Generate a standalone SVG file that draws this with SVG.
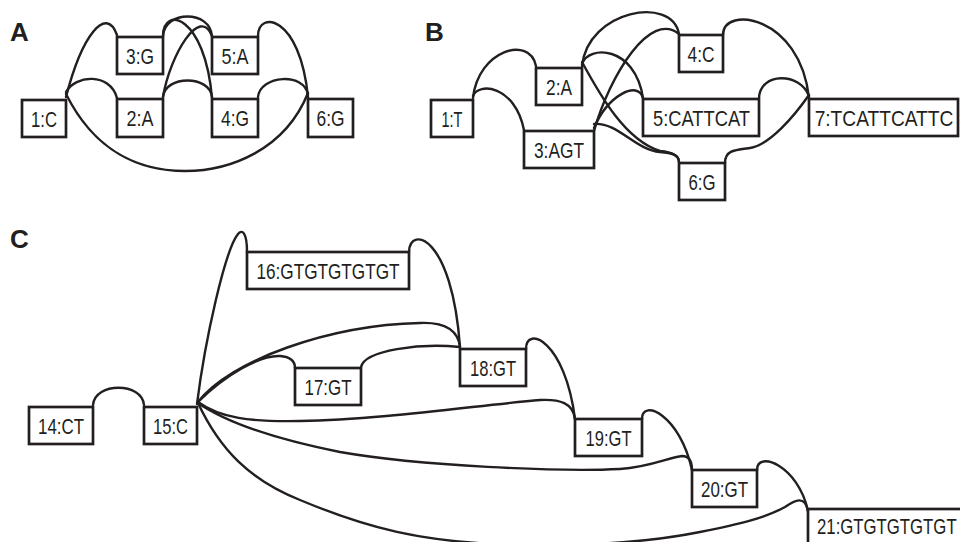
<svg xmlns="http://www.w3.org/2000/svg" width="960" height="542" viewBox="0 0 960 542">
<style>
.bg{fill:#ffffff}
.box{fill:#ffffff;stroke:#231f20;stroke-width:2.7}
.lbl{font-family:"Liberation Sans",Arial,sans-serif;font-size:22.5px;fill:#231f20;text-anchor:middle}
.pn{font-family:"Liberation Sans",Arial,sans-serif;font-size:26px;font-weight:bold;fill:#231f20}
.e{fill:none;stroke:#231f20;stroke-width:2.4;stroke-linecap:round}
</style>
<rect class="bg" x="0" y="0" width="960" height="542"/>
<text class="pn" x="10" y="41">A</text>
<text class="pn" x="425" y="41">B</text>
<text class="pn" x="10" y="248">C</text>
<g id="connectors">
<!-- Panel A -->
<path class="e" d="M66,97 C82,35 106,5 117,35"/>
<path class="e" d="M66,92 C75,75 110,72 117,98"/>
<path class="e" d="M66,94 C95,152 140,171 185,171 C230,171 285,150 308,93"/>
<path class="e" d="M163,36 C163,5 205,15 212,98"/>
<path class="e" d="M163,36 C165,10 210,10 212,36"/>
<path class="e" d="M163,97 C170,55 200,5 212,36"/>
<path class="e" d="M163,97 C165,75 210,75 212,97"/>
<path class="e" d="M258,36 C258,10 300,15 308,97"/>
<path class="e" d="M258,97 C260,75 305,72 308,95"/>
<!-- Panel B -->
<path class="e" d="M473,98 C478,50 530,35 536,66"/>
<path class="e" d="M473,96 C478,82 515,85 524,130"/>
<path class="e" d="M582,66 C588,10 672,-5 679,34"/>
<path class="e" d="M582,64 C588,45 635,45 643,98"/>
<path class="e" d="M582,62 C600,95 625,140 660,151 C672,152 679,155 679,162"/>
<path class="e" d="M594,131 C610,75 650,10 679,34"/>
<path class="e" d="M594,128 C608,95 638,80 643,98"/>
<path class="e" d="M594,124 C618,122 635,150 660,152 C672,153 679,155 679,162"/>
<path class="e" d="M723,35 C723,5 800,15 809,98"/>
<path class="e" d="M759,98 C760,72 800,72 809,96"/>
<path class="e" d="M725,163 C725,150 735,150 750,148 C770,145 795,115 809,95"/>
<!-- Panel C -->
<path class="e" d="M93,405 C95,382 142,382 144,405"/>
<path class="e" d="M197,404 C205,340 225,250 238,234 C242,229 247,232 247,252"/>
<path class="e" d="M409,252 C410,225 452,235 460,347"/>
<path class="e" d="M198,402 C230,360 330,325 420,323 C445,322 458,330 460,347"/>
<path class="e" d="M198,402 C225,375 260,355 280,356 C292,357 295,362 295,368"/>
<path class="e" d="M361,367 C365,350 420,343 460,347"/>
<path class="e" d="M526,349 C526,325 565,340 575,419"/>
<path class="e" d="M198,402 C220,418 250,422 300,421 C380,420 480,405 540,400 C560,399 573,403 575,419"/>
<path class="e" d="M642,419 C642,398 680,415 692,470"/>
<path class="e" d="M198,403 C230,425 280,440 340,452 C420,466 560,472 620,469 C650,467 670,457 682,456 C688,456 692,460 692,470"/>
<path class="e" d="M757,470 C757,450 798,465 808,511"/>
<path class="e" d="M198,403 C220,450 250,480 300,500 C360,525 420,545 535,545 C600,545 650,542 700,532 C740,524 765,518 785,507 C795,500 805,495 808,511"/>
</g>
<!-- Panel A nodes -->
<g id="a1"><rect class="box" x="22" y="100" width="44" height="37"/><text class="lbl" x="44" y="126.5" textLength="26" lengthAdjust="spacingAndGlyphs">1:C</text></g>
<g id="a3"><rect class="box" x="117" y="37" width="46" height="37"/><text class="lbl" x="140" y="63.5" textLength="28" lengthAdjust="spacingAndGlyphs">3:G</text></g>
<g id="a5"><rect class="box" x="212" y="37" width="46" height="37"/><text class="lbl" x="235" y="63.5" textLength="27" lengthAdjust="spacingAndGlyphs">5:A</text></g>
<g id="a2"><rect class="box" x="117" y="99" width="46" height="38"/><text class="lbl" x="140" y="126" textLength="27" lengthAdjust="spacingAndGlyphs">2:A</text></g>
<g id="a4"><rect class="box" x="212" y="99" width="46" height="38"/><text class="lbl" x="235" y="126" textLength="28" lengthAdjust="spacingAndGlyphs">4:G</text></g>
<g id="a6"><rect class="box" x="308" y="99" width="45" height="38"/><text class="lbl" x="330.5" y="126" textLength="28" lengthAdjust="spacingAndGlyphs">6:G</text></g>
<!-- Panel B nodes -->
<g id="b1"><rect class="box" x="431" y="100" width="42" height="37"/><text class="lbl" x="452" y="126.5" textLength="21" lengthAdjust="spacingAndGlyphs">1:T</text></g>
<g id="b2"><rect class="box" x="536" y="68" width="46" height="37"/><text class="lbl" x="559" y="94.5" textLength="26" lengthAdjust="spacingAndGlyphs">2:A</text></g>
<g id="b3"><rect class="box" x="524" y="131" width="70" height="37"/><text class="lbl" x="559" y="157.5" textLength="50" lengthAdjust="spacingAndGlyphs">3:AGT</text></g>
<g id="b4"><rect class="box" x="679" y="35" width="44" height="37"/><text class="lbl" x="701" y="61.5" textLength="27" lengthAdjust="spacingAndGlyphs">4:C</text></g>
<g id="b5"><rect class="box" x="643" y="99" width="116" height="37"/><text class="lbl" x="701.5" y="125.5" textLength="97" lengthAdjust="spacingAndGlyphs">5:CATTCAT</text></g>
<g id="b6"><rect class="box" x="679" y="163" width="46" height="37"/><text class="lbl" x="702" y="189.5" textLength="27" lengthAdjust="spacingAndGlyphs">6:G</text></g>
<g id="b7"><rect class="box" x="809" y="99" width="149" height="37"/><text class="lbl" transform="translate(884,125.5) scale(0.852,1)" x="0" y="0">7:TCATTCATTC</text></g>
<!-- Panel C nodes -->
<g id="c14"><rect class="box" x="29" y="407" width="64" height="37"/><text class="lbl" x="61" y="433.5" textLength="46" lengthAdjust="spacingAndGlyphs">14:CT</text></g>
<g id="c15"><rect class="box" x="144" y="407" width="53" height="37"/><text class="lbl" x="170.5" y="433.5" textLength="35" lengthAdjust="spacingAndGlyphs">15:C</text></g>
<g id="c16"><rect class="box" x="247" y="252" width="162" height="37"/><text class="lbl" x="328" y="278.5" textLength="143" lengthAdjust="spacingAndGlyphs">16:GTGTGTGTGT</text></g>
<g id="c17"><rect class="box" x="295" y="368" width="66" height="37"/><text class="lbl" x="328" y="394.5" textLength="47" lengthAdjust="spacingAndGlyphs">17:GT</text></g>
<g id="c18"><rect class="box" x="460" y="349" width="66" height="37"/><text class="lbl" x="493" y="375.5" textLength="46" lengthAdjust="spacingAndGlyphs">18:GT</text></g>
<g id="c19"><rect class="box" x="575" y="419" width="67" height="37"/><text class="lbl" x="608.5" y="445.5" textLength="46" lengthAdjust="spacingAndGlyphs">19:GT</text></g>
<g id="c20"><rect class="box" x="692" y="470" width="65" height="37"/><text class="lbl" x="724.5" y="496.5" textLength="47" lengthAdjust="spacingAndGlyphs">20:GT</text></g>
<g id="c21"><rect class="box" x="808" y="509" width="170" height="45"/><text class="lbl" transform="translate(817,533.5) scale(0.745,1)" x="0" y="0" style="text-anchor:start">21:GTGTGTGTGT</text></g>
</svg>
